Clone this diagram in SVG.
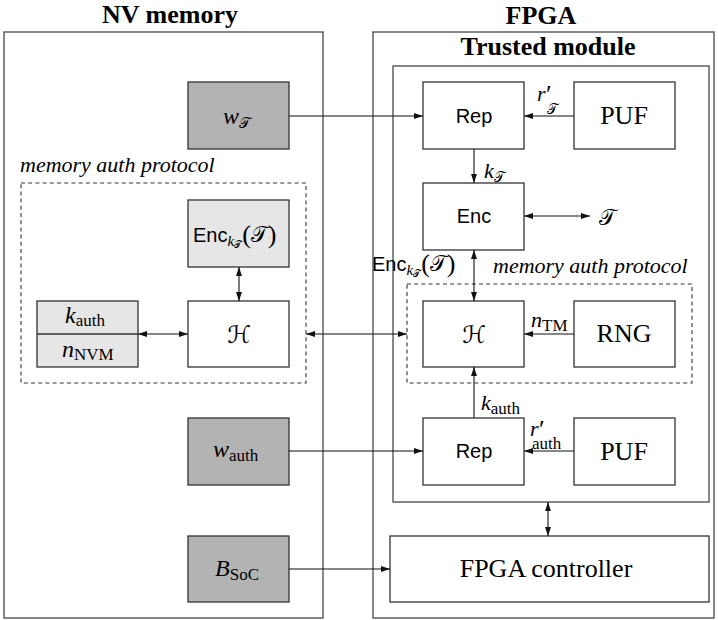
<svg xmlns="http://www.w3.org/2000/svg" width="718" height="620" viewBox="0 0 718 620">
  <style>
    .frame{fill:none;stroke:#555;stroke-width:1.4}
    .box{fill:#fff;stroke:#333;stroke-width:1.3}
    .dark{fill:#b3b3b3;stroke:#333;stroke-width:1.3}
    .light{fill:#e6e6e6;stroke:#333;stroke-width:1.3}
    .dash{fill:none;stroke:#333;stroke-width:1.1;stroke-dasharray:4 3.2}
    .wire{fill:none;stroke:#111;stroke-width:1.1}
    .title{font-family:"Liberation Serif",serif;font-weight:bold;font-size:26px;text-anchor:middle}
    .sans{font-family:"Liberation Sans",sans-serif;font-size:20px;font-style:normal}
    .rm{font-family:"Liberation Serif",serif;font-size:26px;font-style:normal}
    .it{font-family:"Liberation Serif",serif;font-style:italic}
    .sub{font-family:"Liberation Serif",serif;font-size:17px;font-style:normal}
    .cal{font-family:"DejaVu Sans","DejaVu Serif",serif;font-style:normal}
    .proto{font-family:"Liberation Serif",serif;font-style:italic;font-size:22px}
  </style>
  <defs>
    <marker id="ah" viewBox="0 0 10 10" refX="10" refY="5" markerWidth="10" markerHeight="9" markerUnits="userSpaceOnUse" orient="auto-start-reverse">
      <path d="M0,1.7 L10,5 L0,8.3 z" fill="#111"/>
    </marker>
  </defs>

  <!-- outer frames -->
  <g id="nv-memory">
    <rect class="frame" x="4" y="32" width="319" height="586"/>
    <text class="title" x="170" y="23">NV memory</text>
  </g>
  <g id="fpga">
    <rect class="frame" x="373" y="32" width="341" height="586"/>
    <text class="title" x="541" y="24">FPGA</text>
  </g>
  <g id="trusted-module">
    <rect class="frame" x="393" y="66" width="316" height="436"/>
    <text class="title" x="548" y="55">Trusted module</text>
  </g>

  <!-- memory auth protocol regions -->
  <g id="proto-nv">
    <rect class="dash" x="21" y="183" width="285" height="200"/>
    <text class="proto" x="20" y="172">memory auth protocol</text>
  </g>
  <g id="proto-tm">
    <rect class="dash" x="407" y="284" width="285" height="99"/>
    <text class="proto" x="493" y="273">memory auth protocol</text>
  </g>

  <!-- NV memory contents -->
  <g id="w-T">
    <rect class="dark" x="188" y="82" width="101" height="67"/>
    <text x="223" y="124"><tspan class="it" font-size="24">w</tspan><tspan class="cal" font-size="15" y="128">𝒯</tspan></text>
  </g>
  <g id="enc-stored">
    <rect class="light" x="188" y="200" width="101" height="67"/>
    <text x="193" y="242"><tspan class="sans">Enc</tspan><tspan class="it" font-size="15" y="246">k</tspan><tspan class="cal" font-size="10" y="248">𝒯</tspan><tspan class="rm" font-size="26" y="243">(</tspan><tspan class="cal" font-size="22" y="242">𝒯</tspan><tspan class="rm" font-size="26" y="243">)</tspan></text>
  </g>
  <g id="hash-nv">
    <rect class="box" x="188" y="301" width="101" height="66"/>
    <text class="cal" font-size="24" x="239" y="343" text-anchor="middle">ℋ</text>
  </g>
  <g id="keys-nv">
    <rect class="light" x="37" y="301" width="101" height="66"/>
    <line x1="37" y1="334" x2="138" y2="334" stroke="#333" stroke-width="1.3"/>
    <text x="65" y="323"><tspan class="it" font-size="24">k</tspan><tspan class="sub" font-size="18" y="326">auth</tspan></text>
    <text x="62" y="357"><tspan class="it" font-size="24">n</tspan><tspan class="sub" y="360">NVM</tspan></text>
  </g>
  <g id="w-auth">
    <rect class="dark" x="188" y="418" width="101" height="67"/>
    <text x="213" y="457"><tspan class="it" font-size="24">w</tspan><tspan class="sub" font-size="18" y="461">auth</tspan></text>
  </g>
  <g id="b-soc">
    <rect class="dark" x="188" y="536" width="101" height="66"/>
    <text x="215" y="576"><tspan class="it" font-size="24">B</tspan><tspan class="sub" font-size="18" y="580">SoC</tspan></text>
  </g>

  <!-- Trusted module contents -->
  <g id="rep-T">
    <rect class="box" x="423" y="82" width="101" height="67"/>
    <text class="sans" x="474" y="123" text-anchor="middle">Rep</text>
  </g>
  <g id="puf-T">
    <rect class="box" x="574" y="82" width="101" height="67"/>
    <text class="rm" x="624" y="124" text-anchor="middle">PUF</text>
  </g>
  <g id="enc">
    <rect class="box" x="423" y="183" width="101" height="67"/>
    <text class="sans" x="474" y="223" text-anchor="middle">Enc</text>
  </g>
  <g id="hash-tm">
    <rect class="box" x="423" y="301" width="101" height="66"/>
    <text class="cal" font-size="24" x="474" y="343" text-anchor="middle">ℋ</text>
  </g>
  <g id="rng">
    <rect class="box" x="574" y="301" width="101" height="66"/>
    <text class="rm" x="624" y="342" text-anchor="middle">RNG</text>
  </g>
  <g id="rep-auth">
    <rect class="box" x="423" y="418" width="101" height="67"/>
    <text class="sans" x="474" y="458" text-anchor="middle">Rep</text>
  </g>
  <g id="puf-auth">
    <rect class="box" x="574" y="418" width="101" height="67"/>
    <text class="rm" x="624" y="460" text-anchor="middle">PUF</text>
  </g>
  <g id="fpga-controller">
    <rect class="box" x="390" y="536" width="319" height="66"/>
    <text class="rm" font-size="25" x="546" y="577" text-anchor="middle">FPGA controller</text>
  </g>

  <!-- connectors -->
  <g id="connectors">
    <line class="wire" x1="289" y1="116" x2="423" y2="116" marker-end="url(#ah)"/>
    <line class="wire" x1="574" y1="116" x2="524" y2="116" marker-end="url(#ah)"/>
    <line class="wire" x1="474" y1="149" x2="474" y2="183" marker-end="url(#ah)"/>
    <line class="wire" x1="524" y1="216" x2="590" y2="216" marker-start="url(#ah)" marker-end="url(#ah)"/>
    <line class="wire" x1="474" y1="250" x2="474" y2="301" marker-start="url(#ah)" marker-end="url(#ah)"/>
    <line class="wire" x1="574" y1="334" x2="524" y2="334" marker-end="url(#ah)"/>
    <line class="wire" x1="474" y1="418" x2="474" y2="367" marker-end="url(#ah)"/>
    <line class="wire" x1="574" y1="451" x2="524" y2="451" marker-end="url(#ah)"/>
    <line class="wire" x1="289" y1="451" x2="423" y2="451" marker-end="url(#ah)"/>
    <line class="wire" x1="289" y1="569" x2="390" y2="569" marker-end="url(#ah)"/>
    <line class="wire" x1="548" y1="502" x2="548" y2="536" marker-start="url(#ah)" marker-end="url(#ah)"/>
    <line class="wire" x1="306" y1="334" x2="407" y2="334" marker-start="url(#ah)" marker-end="url(#ah)"/>
    <line class="wire" x1="138" y1="334" x2="188" y2="334" marker-start="url(#ah)" marker-end="url(#ah)"/>
    <line class="wire" x1="239" y1="267" x2="239" y2="301" marker-start="url(#ah)" marker-end="url(#ah)"/>
  </g>

  <!-- connector labels -->
  <g id="labels">
    <text x="537" y="101" class="it" font-size="22">r<tspan class="rm" font-size="18" dx="0.5" y="103">′</tspan><tspan class="cal" font-size="14" x="547" y="114">𝒯</tspan></text>
    <text x="484" y="178"><tspan class="it" font-size="22">k</tspan><tspan class="cal" font-size="14" y="182">𝒯</tspan></text>
    <text x="599" y="225" class="cal" font-size="22">𝒯</text>
    <text x="372" y="271"><tspan class="sans">Enc</tspan><tspan class="it" font-size="15" y="275">k</tspan><tspan class="cal" font-size="10" y="277">𝒯</tspan><tspan class="rm" font-size="26" y="272">(</tspan><tspan class="cal" font-size="22" y="271">𝒯</tspan><tspan class="rm" font-size="26" y="272">)</tspan></text>
    <text x="531" y="327"><tspan class="it" font-size="22">n</tspan><tspan class="sub" y="331">TM</tspan></text>
    <text x="481" y="410"><tspan class="it" font-size="22">k</tspan><tspan class="sub" font-size="16" y="414">auth</tspan></text>
    <text x="530" y="436" class="it" font-size="22">r<tspan class="rm" font-size="18" dx="0.5" y="438">′</tspan><tspan class="sub" font-size="15" x="532" y="449">auth</tspan></text>
  </g>
</svg>
